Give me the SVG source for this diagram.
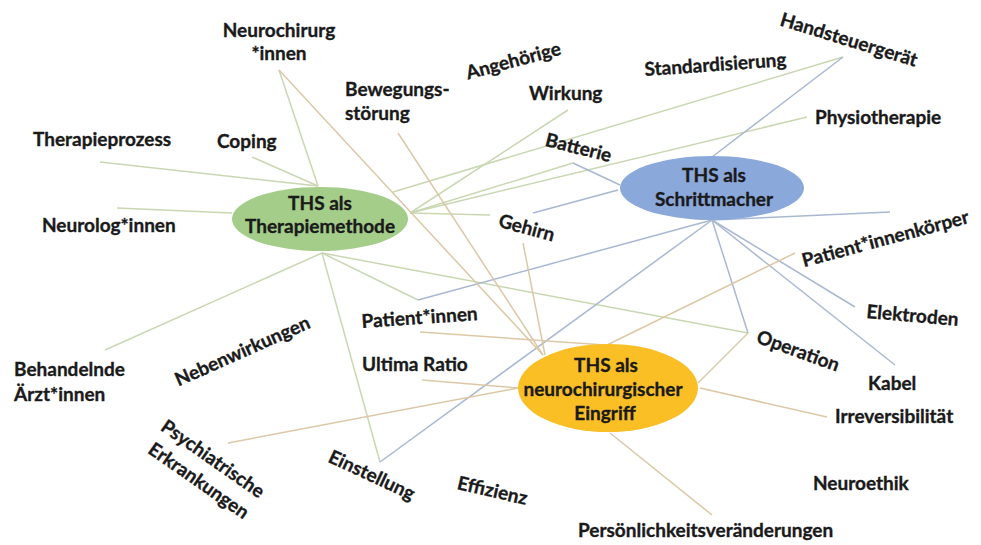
<svg xmlns="http://www.w3.org/2000/svg" width="981" height="545" viewBox="0 0 981 545">
<style>
.t{font-family:Lato,"Open Sans","Liberation Sans",sans-serif;font-weight:700;font-size:19px;fill:#1a1a1a;stroke:#1a1a1a;stroke-width:0.35}
.m{text-anchor:middle}
.cg{stroke:#c9d7b2;stroke-width:1.5;fill:none}
.cb{stroke:#a9b8d2;stroke-width:1.5;fill:none}
.co{stroke:#dcc8a6;stroke-width:1.5;fill:none}
</style>
<rect width="981" height="545" fill="#ffffff"/>
<g id="connectors">
<line class="cg" x1="318" y1="186" x2="279" y2="70"/>
<line class="cg" x1="318" y1="186" x2="100" y2="162"/>
<line class="cg" x1="318" y1="186" x2="252" y2="157"/>
<line class="cg" x1="232" y1="213" x2="117" y2="208"/>
<line class="cg" x1="393" y1="192" x2="843" y2="57"/>
<line class="cg" x1="410" y1="213" x2="568" y2="110"/>
<line class="cg" x1="410" y1="213" x2="573" y2="163"/>
<line class="cg" x1="410" y1="213" x2="807" y2="117"/>
<line class="cg" x1="410" y1="213" x2="490" y2="215"/>
<line class="cg" x1="322" y1="253" x2="105" y2="350"/>
<line class="cg" x1="322" y1="253" x2="380" y2="462"/>
<line class="cg" x1="322" y1="253" x2="418" y2="300"/>
<line class="cg" x1="322" y1="253" x2="748" y2="333"/>
<line class="cb" x1="712" y1="157" x2="843" y2="57"/>
<line class="cb" x1="620" y1="185" x2="573" y2="163"/>
<line class="cb" x1="618" y1="190" x2="533" y2="213"/>
<line class="cb" x1="712" y1="220" x2="890" y2="212"/>
<line class="cb" x1="712" y1="220" x2="855" y2="307"/>
<line class="cb" x1="712" y1="220" x2="895" y2="365"/>
<line class="cb" x1="712" y1="220" x2="748" y2="333"/>
<line class="cb" x1="712" y1="220" x2="418" y2="300"/>
<line class="cb" x1="712" y1="220" x2="380" y2="462"/>
<line class="co" x1="543" y1="355" x2="279" y2="70"/>
<line class="co" x1="543" y1="355" x2="398" y2="133"/>
<line class="co" x1="545" y1="355" x2="523" y2="243"/>
<line class="co" x1="605" y1="345" x2="420" y2="332"/>
<line class="co" x1="607" y1="345" x2="795" y2="253"/>
<line class="co" x1="518" y1="388" x2="422" y2="380"/>
<line class="co" x1="518" y1="388" x2="228" y2="443"/>
<line class="co" x1="698" y1="383" x2="748" y2="333"/>
<line class="co" x1="700" y1="388" x2="827" y2="417"/>
<line class="co" x1="610" y1="433" x2="712" y2="515"/>
</g>
<g id="node-therapiemethode">
<ellipse cx="320" cy="219" rx="88" ry="32" fill="#a3cd89"/>
<text class="t m" x="320" y="210">THS als</text>
<text class="t m" x="320" y="233">Therapiemethode</text>
</g>
<g id="node-schrittmacher">
<ellipse cx="712" cy="188" rx="92" ry="32" fill="#8ba8da"/>
<text class="t m" x="714" y="182">THS als</text>
<text class="t m" x="714" y="206">Schrittmacher</text>
</g>
<g id="node-eingriff">
<ellipse cx="608" cy="388" rx="90" ry="44" fill="#fbbf26"/>
<text class="t m" x="606" y="372">THS als</text>
<text class="t m" x="603" y="396">neurochirurgischer</text>
<text class="t m" x="605" y="420">Eingriff</text>
</g>
<g id="neurochirurg"><text class="t m" x="279" y="37">Neurochirurg</text><text class="t m" x="279" y="60">*innen</text></g>
<g id="angehoerige"><text class="t m" transform="translate(515,67) rotate(-15)">Angehörige</text></g>
<g id="bewegung"><text class="t" x="345" y="96">Bewegungs-</text><text class="t" x="345" y="120">störung</text></g>
<g id="wirkung"><text class="t" x="529" y="100">Wirkung</text></g>
<g id="standardisierung"><text class="t" transform="translate(645,76) rotate(-4)">Standardisierung</text></g>
<g id="handsteuergeraet"><text class="t m" transform="translate(847,46) rotate(17)">Handsteuergerät</text></g>
<g id="physiotherapie"><text class="t" x="815" y="124">Physiotherapie</text></g>
<g id="therapieprozess"><text class="t" x="33" y="146">Therapieprozess</text></g>
<g id="coping"><text class="t" x="217" y="148">Coping</text></g>
<g id="batterie"><text class="t m" transform="translate(577,154) rotate(14)">Batterie</text></g>
<g id="neurolog"><text class="t" x="42" y="232">Neurolog*innen</text></g>
<g id="gehirn"><text class="t m" transform="translate(525,234) rotate(15)">Gehirn</text></g>
<g id="patientkoerper"><text class="t m" transform="translate(887,245) rotate(-15)">Patient*innenkörper</text></g>
<g id="elektroden"><text class="t m" transform="translate(912,322) rotate(5)">Elektroden</text></g>
<g id="operation"><text class="t m" transform="translate(796,357) rotate(20)">Operation</text></g>
<g id="kabel"><text class="t" x="868" y="390">Kabel</text></g>
<g id="irreversibilitaet"><text class="t" x="835" y="423">Irreversibilität</text></g>
<g id="neuroethik"><text class="t" x="813" y="490">Neuroethik</text></g>
<g id="persoenlichkeit"><text class="t" x="578" y="537">Persönlichkeitsveränderungen</text></g>
<g id="effizienz"><text class="t m" transform="translate(491,497) rotate(13)">Effizienz</text></g>
<g id="einstellung"><text class="t m" transform="translate(369,481) rotate(25)">Einstellung</text></g>
<g id="psychiatrisch" transform="translate(212,460) rotate(35)"><text class="t m" x="0" y="5">Psychiatrische</text><text class="t m" x="1" y="31">Erkrankungen</text></g>
<g id="nebenwirkungen"><text class="t m" transform="translate(245,357) rotate(-24)">Nebenwirkungen</text></g>
<g id="behandelnde"><text class="t" x="14" y="376">Behandelnde</text><text class="t" x="14" y="401">Ärzt*innen</text></g>
<g id="patienten"><text class="t m" transform="translate(420,324) rotate(-4)">Patient*innen</text></g>
<g id="ultima"><text class="t" x="362" y="371">Ultima Ratio</text></g>
</svg>
